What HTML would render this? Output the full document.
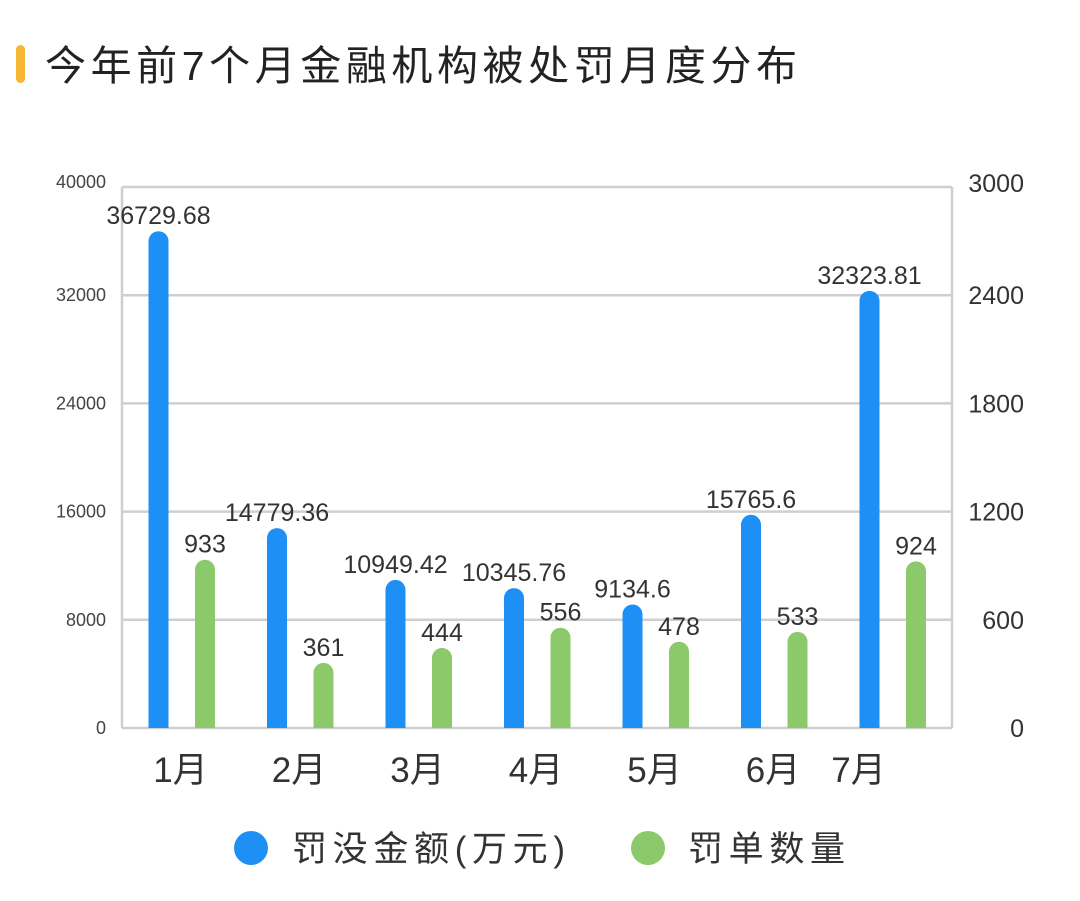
<!DOCTYPE html>
<html><head><meta charset="utf-8"><style>
body{margin:0;background:#fff;width:1080px;height:896px;overflow:hidden;font-family:"Liberation Sans","Noto Sans CJK SC",sans-serif}
</style></head><body>
<svg width="1080" height="896" xmlns="http://www.w3.org/2000/svg" font-family="Liberation Sans, Noto Sans CJK SC, sans-serif">
<rect x="16" y="45" width="9" height="38" rx="4.5" fill="#f7b733"/>
<text x="45" y="80" font-size="41" fill="#222" textLength="752" lengthAdjust="spacing">今年前7个月金融机构被处罚月度分布</text>
<g id="plot"></g>
<g>
<circle cx="251" cy="848" r="17" fill="#1e90f5"/>
<text x="292" y="861" font-size="35" fill="#333" textLength="273" lengthAdjust="spacing">罚没金额(万元)</text>
<circle cx="648" cy="848" r="17" fill="#8cc96a"/>
<text x="688" y="861" font-size="35" fill="#333" textLength="157" lengthAdjust="spacing">罚单数量</text>
</g>
</svg>
<script>
const categories=["1月","2月","3月","4月","5月","6月","7月"];
const amounts=[36729.68,14779.36,10949.42,10345.76,9134.6,15765.6,32323.81];
const amountLabels=["36729.68","14779.36","10949.42","10345.76","9134.6","15765.6","32323.81"];
const counts=[933,361,444,556,478,533,924];
const leftTicks=[0,8000,16000,24000,32000,40000];
const rightTicks=[0,600,1200,1800,2400,3000];
const NS="http://www.w3.org/2000/svg";
const g=document.getElementById('plot');
const X0=122,X1=952,Y0=728,Y1=187;
const yL=v=>Y0-v/40000*(Y0-Y1);
const yR=v=>Y0-v/3000*(Y0-Y1);
const xc=i=>158.5+i*118.5;
function el(t,a){const e=document.createElementNS(NS,t);for(const k in a)e.setAttribute(k,a[k]);g.appendChild(e);return e;}
leftTicks.forEach((t,i)=>{
 const y=yL(t);
 const l=el('line',{x1:X0,x2:X1,y1:y,y2:y,stroke:'#cfcfcf','stroke-width':2.5});
 
 
 const a=el('text',{x:106,y:y+(t===40000?1:6),'font-size':18,fill:'#444','text-anchor':'end'});a.textContent=t;
 
 
 const b=el('text',{x:1024,y:yR(rightTicks[i])+(i===5?5:9),'font-size':25,fill:'#333','text-anchor':'end'});b.textContent=rightTicks[i];
 
 
});
[X0,X1].forEach(x=>{const l=el('line',{x1:x,x2:x,y1:Y1,y2:Y0,stroke:'#cfcfcf','stroke-width':2.5});
 
 });
function bar(x,top,color,name){
 const w=20;
 const p=el('path',{d:`M${x-w/2},${Y0} V${top+w/2} A${w/2},${w/2} 0 0 1 ${x+w/2},${top+w/2} V${Y0} Z`,fill:color});
 
 
}
categories.forEach((c,i)=>{
 const x=xc(i);
 const ta=yL(amounts[i]);
 bar(x,ta,'#1e90f5','bar-amount-'+(i+1));
 const la=el('text',{x:x,y:ta-7,'font-size':25,fill:'#333','text-anchor':'middle'});la.textContent=amountLabels[i];
 
 
 const gx=x+46.5,tc=yR(counts[i]);
 bar(gx,tc,'#8cc96a','bar-count-'+(i+1));
 const lc=el('text',{x:gx,y:tc-7,'font-size':25,fill:'#333','text-anchor':'middle'});lc.textContent=counts[i];
 
 
 const xl=el('text',{x:i===6?x-11:x+22,y:782,'font-size':35,fill:'#333','text-anchor':'middle'});xl.textContent=c;
 
 
});
</script>
</body></html>
